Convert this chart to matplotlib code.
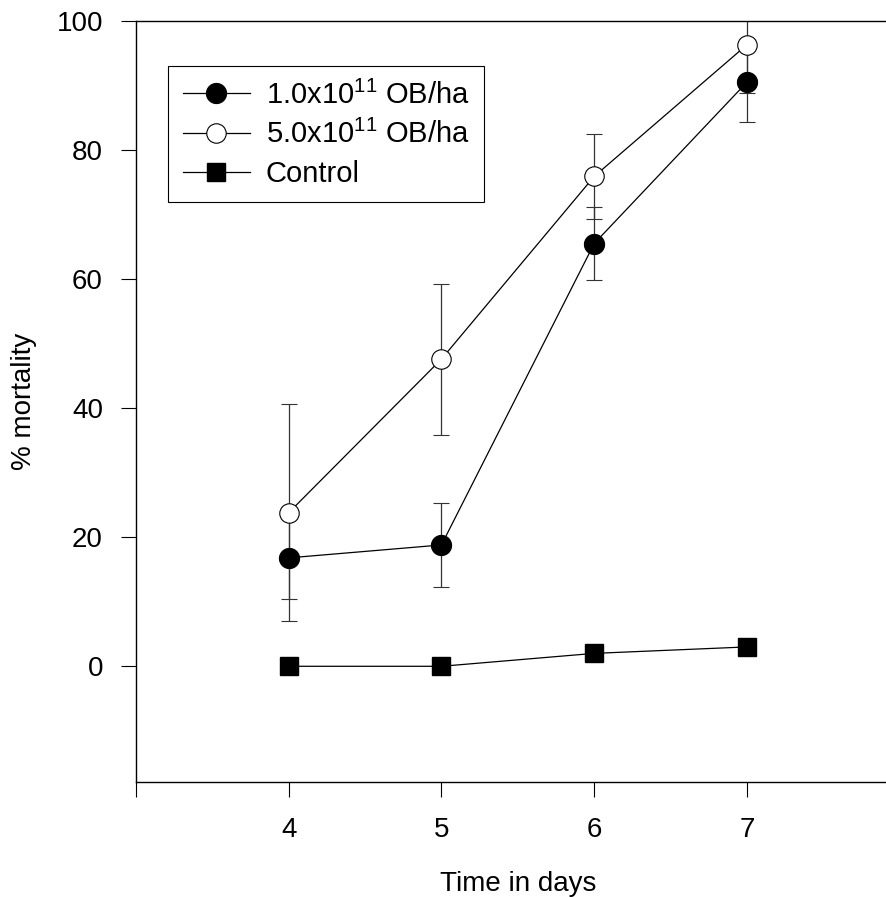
import matplotlib
matplotlib.use('Agg')
import matplotlib.pyplot as plt
from matplotlib.lines import Line2D
import numpy as np

plt.rcParams['font.family'] = ['Liberation Sans', 'DejaVu Sans']
plt.rcParams['mathtext.default'] = 'regular'

days = [4, 5, 6, 7]
low_dose = [16.8, 18.8, 65.5, 90.5]          # 1.0x10^11 OB/ha
low_dose_se = [6.4, 6.5, 5.7, 6.1]
high_dose = [23.8, 47.6, 75.9, 96.3]         # 5.0x10^11 OB/ha
high_dose_se = [16.8, 11.7, 6.6, 7.5]
control = [0.0, 0.0, 2.0, 3.0]

labels = ['1.0x10$^{11}$ OB/ha', '5.0x10$^{11}$ OB/ha', 'Control']

fs = 20  # fontsize

fig = plt.figure(figsize=(8.86, 8.97), dpi=100)
ax = fig.add_axes([0.1535, 0.1277, 0.8619, 0.849])

err_kw = dict(ecolor='#333333', elinewidth=0.9, capsize=5.8, capthick=0.9)
style_low = dict(color='black', lw=0.9, marker='o', ms=14.5, mfc='black', mec='black', mew=0.8)
style_high = dict(color='black', lw=0.9, marker='o', ms=14, mfc='white', mec='black', mew=0.8)
style_ctrl = dict(color='black', lw=0.9, marker='s', ms=12.5, mfc='black', mec='black')

ax.errorbar(days, low_dose, yerr=low_dose_se, **style_low, **err_kw)
ax.errorbar(days, high_dose, yerr=high_dose_se, **style_high, **err_kw)
ax.plot(days, control, **style_ctrl)

ax.set_xlim(3, 8)
ax.set_ylim(-18, 100)
ax.set_xticks([3, 4, 5, 6, 7])
ax.set_xticklabels(['', '4', '5', '6', '7'])
ax.set_yticks([0, 20, 40, 60, 80, 100])

ax.spines['right'].set_visible(False)
for s in ['left', 'top', 'bottom']:
    ax.spines[s].set_linewidth(1.0)
ax.tick_params(axis='both', direction='out', length=10.8, width=0.8,
               labelsize=fs)
ax.tick_params(axis='x', pad=14)
ax.tick_params(axis='y', pad=13)

ax.set_xlabel('Time in days', fontsize=fs, labelpad=20)
ax.set_ylabel('% mortality', fontsize=fs, labelpad=14)

handles = [Line2D([], [], **style_low), Line2D([], [], **style_high), Line2D([], [], **style_ctrl)]
leg = ax.legend(handles, labels, loc='upper left', bbox_to_anchor=(0.042, 0.941),
                borderaxespad=0, fontsize=21, fancybox=False,
                edgecolor='black', framealpha=1, handlelength=2.3,
                handletextpad=0.55, labelspacing=0.36, borderpad=0.5)
leg.get_frame().set_linewidth(0.8)

plt.savefig('out.png', dpi=100)
